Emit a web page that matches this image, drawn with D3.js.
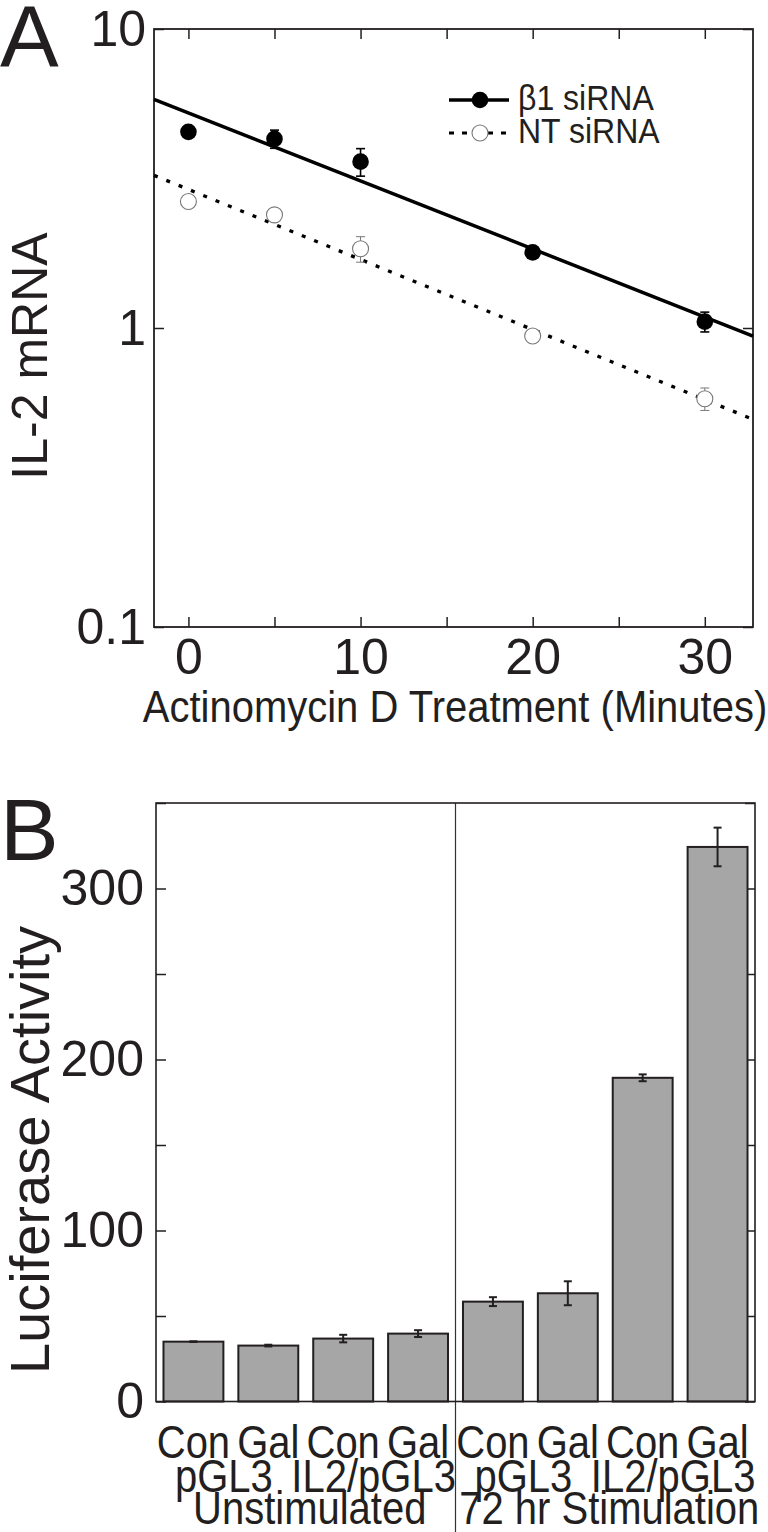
<!DOCTYPE html>
<html>
<head>
<meta charset="utf-8">
<script src="https://cdn.jsdelivr.net/npm/d3@7"></script>
<style>
  body { margin: 0; background: #fff; }
  svg { display: block; }
  text { font-family: "Liberation Sans", Arial, sans-serif; fill: #231f20; }
</style>
</head>
<body>
<svg id="fig" width="768" height="1532"></svg>
<script>
// ---- panel A data (IL-2 mRNA decay) ----
const times = [0, 5, 10, 20, 30];
const b1Mean = [4.53, 4.29, 3.6, 1.79, 1.05];
const b1Err = [0, 0.3, 0.38, 0, 0.08];
const ntMean = [2.65, 2.39, 1.84, 0.94, 0.58];
const ntErr = [0, 0, 0.18, 0, 0.05];
// fitted lines, value at each end of the time axis
const fitTimes = [-2, 32.8];
const b1Fit = [5.82, 0.94];
const ntFit = [3.24, 0.495];
const xTicksA = [0, 5, 10, 15, 20, 25, 30];
const yTicksA = [0.1, 1, 10];
const seriesNames = ['\u03b21 siRNA', 'NT siRNA'];

// ---- panel B data (luciferase) ----
const treatments = ['Con', 'Gal', 'Con', 'Gal', 'Con', 'Gal', 'Con', 'Gal'];
const lucMean = [35.0, 32.7, 36.8, 39.7, 58.4, 63.3, 189.3, 324.3];
const lucErr = [0.2, 0.5, 2.2, 2.0, 2.6, 7.0, 2.0, 11.3];
const plasmids = ['pGL3', 'IL2/pGL3', 'pGL3', 'IL2/pGL3'];
const conditions = ['Unstimulated', '72 hr Stimulation'];
const yTicksB = [0, 50, 100, 150, 200, 250, 300, 350];

const ink = '#231f20';
const svg = d3.select('#fig');

function styleAxis (g, size) {
  g.select('.domain').remove();
  g.selectAll('line').attr('stroke', ink).attr('stroke-width', 1.5);
  g.selectAll('text').attr('font-size', size).attr('fill', ink)
    .attr('font-family', '"Liberation Sans", Arial, sans-serif');
}

// labels in the figure are a bit taller than plain Arial
function tallText (g, x, y, size, str, sy = 1.15) {
  return g.append('text')
    .attr('transform', `translate(${x},${y}) scale(1,${sy})`)
    .attr('text-anchor', 'middle').attr('font-size', size).text(str);
}

// ================= Panel A =================
function drawA () {
  const x = d3.scaleLinear().domain([-2, 32.8]).range([154, 753]);
  const y = d3.scaleLog().domain([0.1, 10]).range([627, 29]);
  const g = svg.append('g');

  g.append('g').attr('transform', 'translate(0,627)')
    .call(d3.axisBottom(x).tickValues(xTicksA).tickSizeInner(-10).tickSizeOuter(0)
      .tickPadding(11).tickFormat(d => d % 10 === 0 ? d : ''))
    .call(a => styleAxis(a, 50));
  g.append('g').attr('transform', 'translate(0,29)')
    .call(d3.axisTop(x).tickValues(xTicksA).tickSizeInner(-10).tickSizeOuter(0).tickFormat(''))
    .call(a => styleAxis(a, 0));
  g.append('g').attr('transform', 'translate(154,0)')
    .call(d3.axisLeft(y).tickValues(yTicksA).tickSizeInner(-10).tickSizeOuter(0)
      .tickPadding(8).tickFormat(d => d))
    .call(a => styleAxis(a, 50));
  g.append('g').attr('transform', 'translate(753,0)')
    .call(d3.axisRight(y).tickValues(yTicksA).tickSizeInner(-10).tickSizeOuter(0).tickFormat(''))
    .call(a => styleAxis(a, 0));

  g.append('rect')
    .attr('x', x.range()[0]).attr('y', y.range()[1])
    .attr('width', x.range()[1] - x.range()[0])
    .attr('height', y.range()[0] - y.range()[1])
    .attr('fill', 'none').attr('stroke', ink).attr('stroke-width', 1.8);

  // fit lines
  const line = d3.line().x(d => x(d[0])).y(d => y(d[1]));
  g.append('path').datum(d3.zip(fitTimes, b1Fit))
    .attr('d', line).attr('fill', 'none').attr('stroke', '#000').attr('stroke-width', 3.5);
  g.append('path').datum(d3.zip(fitTimes, ntFit))
    .attr('d', line).attr('fill', 'none').attr('stroke', '#000').attr('stroke-width', 3.3)
    .attr('stroke-dasharray', '4,9.3');

  // error bars
  function errBars (mean, err, color, w) {
    const data = times.map((t, i) => ({ t, m: mean[i], e: err[i] })).filter(d => d.e > 0);
    const eg = g.append('g').attr('stroke', color).attr('stroke-width', w);
    eg.selectAll('.v').data(data).join('line')
      .attr('x1', d => x(d.t)).attr('x2', d => x(d.t))
      .attr('y1', d => y(d.m + d.e)).attr('y2', d => y(d.m - d.e));
    eg.selectAll('.t').data(data).join('line')
      .attr('x1', d => x(d.t) - 4.5).attr('x2', d => x(d.t) + 4.5)
      .attr('y1', d => y(d.m + d.e)).attr('y2', d => y(d.m + d.e));
    eg.selectAll('.b').data(data).join('line')
      .attr('x1', d => x(d.t) - 4.5).attr('x2', d => x(d.t) + 4.5)
      .attr('y1', d => y(d.m - d.e)).attr('y2', d => y(d.m - d.e));
  }
  errBars(ntMean, ntErr, '#777', 1);
  errBars(b1Mean, b1Err, '#000', 1.6);

  g.selectAll('.nt').data(times).join('circle')
    .attr('cx', d => x(d)).attr('cy', (d, i) => y(ntMean[i])).attr('r', 8)
    .attr('fill', '#fff').attr('stroke', '#777').attr('stroke-width', 1.1);
  g.selectAll('.b1').data(times).join('circle')
    .attr('cx', d => x(d)).attr('cy', (d, i) => y(b1Mean[i])).attr('r', 8.3)
    .attr('fill', '#000');

  // legend
  const lg = g.append('g');
  lg.append('line').attr('x1', 449).attr('x2', 509).attr('y1', 100).attr('y2', 100)
    .attr('stroke', '#000').attr('stroke-width', 3.3);
  lg.append('circle').attr('cx', 480).attr('cy', 100).attr('r', 8.3).attr('fill', '#000');
  lg.append('line').attr('x1', 449).attr('x2', 509).attr('y1', 133).attr('y2', 133)
    .attr('stroke', '#000').attr('stroke-width', 3).attr('stroke-dasharray', '5,8');
  lg.append('circle').attr('cx', 480).attr('cy', 133).attr('r', 8)
    .attr('fill', '#fff').attr('stroke', '#777').attr('stroke-width', 1.1);
  lg.selectAll('text').data(seriesNames).join('text')
    .attr('transform', (d, i) => `translate(518,${110 + i * 33}) scale(1,1.08)`)
    .attr('font-size', 32).text(d => d);

  // titles
  tallText(g, 455, 722, 40, 'Actinomycin D Treatment (Minutes)', 1.12);
  g.append('text').attr('transform', 'translate(47,356) rotate(-90)')
    .attr('text-anchor', 'middle').attr('font-size', 50).text('IL-2 mRNA');
  g.append('text').attr('x', 0).attr('y', 67).attr('font-size', 88).text('A');
}

// ================= Panel B =================
function drawB () {
  const x = d3.scaleBand().domain(d3.range(treatments.length)).range([156, 755])
    .paddingInner(0.2).paddingOuter(0.1);
  const y = d3.scaleLinear().domain([0, 350]).range([1401.5, 803]);
  const g = svg.append('g');

  g.append('g').attr('transform', 'translate(156,0)')
    .call(d3.axisLeft(y).tickValues(yTicksB).tickSizeInner(-10).tickSizeOuter(0)
      .tickPadding(12).tickFormat(d => d % 100 === 0 && d < 350 ? d : ''))
    .call(a => styleAxis(a, 50));
  g.append('g').attr('transform', 'translate(755,0)')
    .call(d3.axisRight(y).tickValues(yTicksB).tickSizeInner(-10).tickSizeOuter(0).tickFormat(''))
    .call(a => styleAxis(a, 0));

  // group divider
  const divX = (x(3) + x.bandwidth() + x(4)) / 2;
  g.append('line').attr('x1', divX).attr('x2', divX).attr('y1', y(350)).attr('y2', 1532)
    .attr('stroke', '#333').attr('stroke-width', 1.2);

  g.selectAll('.bar').data(lucMean).join('rect')
    .attr('x', (d, i) => x(i)).attr('width', x.bandwidth())
    .attr('y', d => y(d)).attr('height', d => y(0) - y(d))
    .attr('fill', '#a6a6a6').attr('stroke', ink).attr('stroke-width', 2);

  g.append('rect')
    .attr('x', 156).attr('y', y(350)).attr('width', 755 - 156).attr('height', y(0) - y(350))
    .attr('fill', 'none').attr('stroke', ink).attr('stroke-width', 1.6);

  const eg = g.append('g').attr('stroke', ink).attr('stroke-width', 2);
  const cx = i => x(i) + x.bandwidth() / 2;
  eg.selectAll('.v').data(lucMean).join('line')
    .attr('x1', (d, i) => cx(i)).attr('x2', (d, i) => cx(i))
    .attr('y1', (d, i) => y(d + lucErr[i])).attr('y2', (d, i) => y(d - lucErr[i]));
  [1, -1].forEach(s => {
    eg.selectAll('.c' + s).data(lucMean).join('line')
      .attr('x1', (d, i) => cx(i) - 4).attr('x2', (d, i) => cx(i) + 4)
      .attr('y1', (d, i) => y(d + s * lucErr[i])).attr('y2', (d, i) => y(d + s * lucErr[i]));
  });

  // category labels, three rows
  treatments.forEach((d, i) => tallText(g, cx(i), 1458, 40, d));
  plasmids.forEach((d, i) => tallText(g, (cx(2 * i) + cx(2 * i + 1)) / 2 - 7, 1492, 40, d));
  conditions.forEach((d, i) => tallText(g, (cx(4 * i) + cx(4 * i + 3)) / 2 + 4, 1524, 40, d));

  g.append('text').attr('transform', 'translate(49,1150) rotate(-90)')
    .attr('text-anchor', 'middle').attr('font-size', 56).text('Luciferase Activity');
  g.append('text').attr('x', 0).attr('y', 860).attr('font-size', 88).text('B');
}

drawA();
drawB();
</script>
</body>
</html>
